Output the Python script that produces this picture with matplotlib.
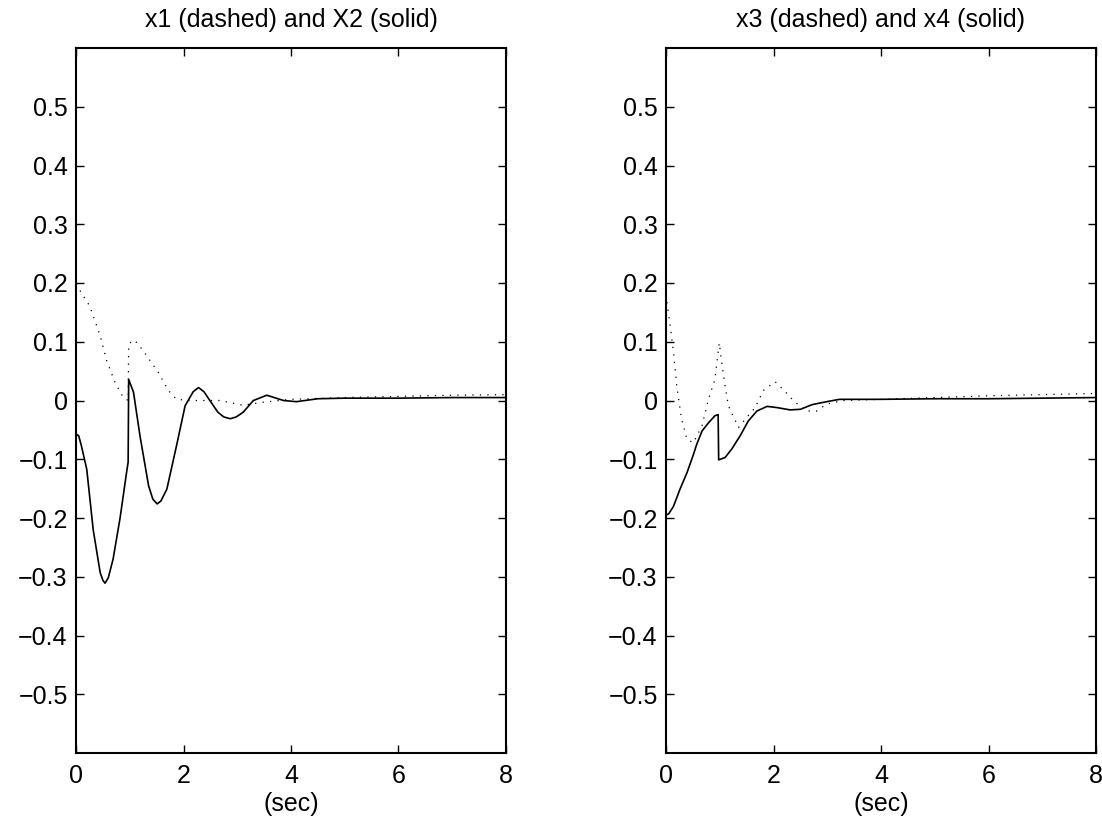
import matplotlib
matplotlib.use("Agg")
import matplotlib.pyplot as plt

plt.rcParams['font.family'] = ['Liberation Sans', 'DejaVu Sans']

# x1 (dotted) and x2 (solid), left panel
t_x1 = [0.0, 0.26, 0.45, 0.57, 0.73, 0.88, 0.97, 0.98, 1.07, 1.15, 1.31, 1.53, 1.72, 1.87,
        2.12, 2.68, 3.1, 3.48, 4.0, 5.0, 6.0, 7.0, 8.0]
x1 = [0.198, 0.16, 0.11, 0.068, 0.03, 0.005, 0.0, 0.096, 0.103, 0.097, 0.077, 0.048, 0.017,
      0.002, 0.0, 0.0, -0.008, -0.003, 0.002, 0.005, 0.007, 0.009, 0.01]

t_x2 = [0.0, 0.05, 0.1, 0.2, 0.32, 0.45, 0.5, 0.54, 0.6, 0.69, 0.82, 0.94, 0.97, 0.98, 1.07,
        1.19, 1.35, 1.43, 1.51, 1.58, 1.69, 1.87, 2.03, 2.18, 2.28, 2.38, 2.49, 2.64, 2.75,
        2.87, 2.98, 3.11, 3.3, 3.55, 3.86, 4.1, 4.5, 5.0, 6.0, 7.0, 8.0]
x2 = [-0.057, -0.06, -0.077, -0.117, -0.22, -0.293, -0.306, -0.311, -0.302, -0.27, -0.2,
      -0.123, -0.105, 0.036, 0.014, -0.06, -0.145, -0.168, -0.176, -0.171, -0.151, -0.077,
      -0.009, 0.015, 0.022, 0.015, 0.0, -0.02, -0.028, -0.031, -0.028, -0.02, 0.0, 0.009,
      0.0, -0.002, 0.003, 0.004, 0.004, 0.005, 0.005]

# x3 (dotted) and x4 (solid), right panel
t_x3 = [0.0, 0.07, 0.14, 0.2, 0.29, 0.39, 0.51, 0.67, 0.79, 0.91, 0.99, 1.07, 1.16, 1.35,
        1.5, 1.66, 1.81, 2.03, 2.2, 2.37, 2.6, 2.8, 2.99, 3.3, 4.0, 5.0, 6.0, 7.0, 8.0]
x3 = [0.18, 0.133, 0.082, 0.025, -0.032, -0.066, -0.072, -0.043, 0.002, 0.036, 0.098, 0.042,
      -0.009, -0.046, -0.029, -0.012, 0.017, 0.032, 0.017, 0.0, -0.018, -0.018, -0.006, 0.0,
      0.002, 0.005, 0.008, 0.01, 0.012]

t_x4 = [0.0, 0.05, 0.14, 0.26, 0.39, 0.51, 0.57, 0.67, 0.79, 0.91, 0.97, 0.98, 1.1, 1.22,
        1.38, 1.53, 1.69, 1.88, 2.06, 2.31, 2.5, 2.72, 2.99, 3.23, 4.0, 5.0, 6.0, 7.0, 8.0]
x4 = [-0.195, -0.193, -0.18, -0.151, -0.123, -0.092, -0.075, -0.052, -0.038, -0.026, -0.024,
      -0.101, -0.097, -0.083, -0.06, -0.035, -0.018, -0.01, -0.012, -0.016, -0.015, -0.007,
      -0.002, 0.002, 0.002, 0.003, 0.003, 0.004, 0.005]

titles = ['x1 (dashed) and X2 (solid)', 'x3 (dashed) and x4 (solid)']
yticks = [-0.5, -0.4, -0.3, -0.2, -0.1, 0, 0.1, 0.2, 0.3, 0.4, 0.5]
xticks = [0, 2, 4, 6, 8]

fig = plt.figure(figsize=(11.02, 8.16), dpi=100)
ax1 = fig.add_axes([76 / 1102, 63 / 816, 430 / 1102, 705 / 816])
ax2 = fig.add_axes([666 / 1102, 63 / 816, 430 / 1102, 705 / 816])

panels = [(ax1, t_x1, x1, t_x2, x2), (ax2, t_x3, x3, t_x4, x4)]
for (ax, td, yd, ts, ys), title in zip(panels, titles):
    ax.plot(td, yd, color='black', linestyle=(0, (1, 5)), linewidth=0.9)
    ax.plot(ts, ys, color='black', linestyle='-', linewidth=1.2)
    ax.set_xlim(0, 8)
    ax.set_ylim(-0.6, 0.6)
    ax.set_xticks(xticks)
    ax.set_xticklabels([str(v) for v in xticks])
    ax.set_yticks(yticks)
    ax.set_yticklabels(['\u22120.5', '\u22120.4', '\u22120.3', '\u22120.2', '\u22120.1', '0',
                        '0.1', '0.2', '0.3', '0.4', '0.5'])
    ax.tick_params(direction='in', top=True, right=True, length=6, width=1,
                   labelsize=18)
    ax.tick_params(axis='x', pad=8)
    ax.tick_params(axis='y', pad=6)
    for s in ax.spines.values():
        s.set_linewidth(1.5)
    ax.set_xlabel('(sec)', fontsize=18, labelpad=3)
    ax.set_title(title, fontsize=18, pad=15)

fig.savefig('out.png', dpi=100)
